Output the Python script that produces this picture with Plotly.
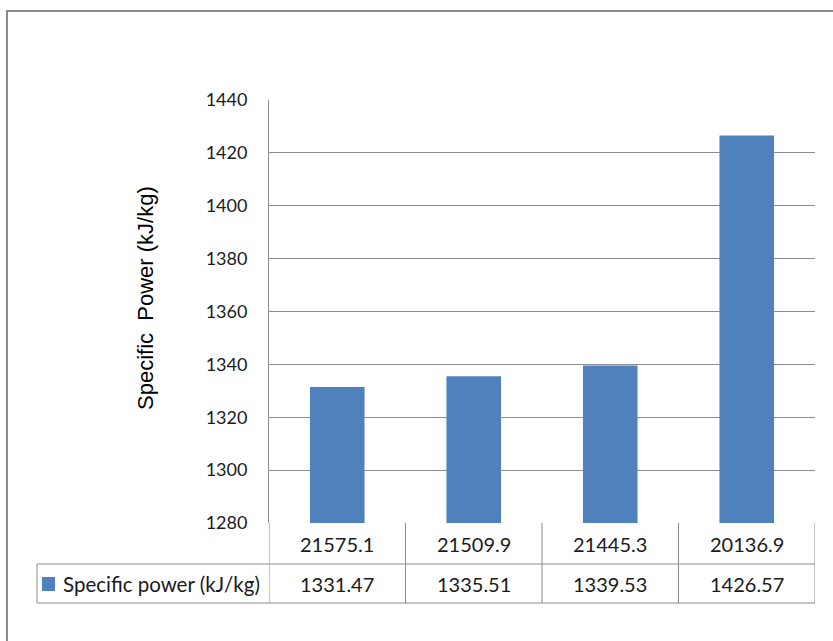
import plotly.graph_objects as go

# Chart data
categories = ["21575.1", "21509.9", "21445.3", "20136.9"]
specific_power = [1331.47, 1335.51, 1339.53, 1426.57]
series_name = "Specific power (kJ/kg)"
y_ticks = [1280, 1300, 1320, 1340, 1360, 1380, 1400, 1420, 1440]

W, H = 833, 641
L, R, T, B = 269, 18, 100, 118
pw, ph = W - L - R, H - T - B

def px_x(x):
    return (x - L) / pw

def px_y(y):
    return (H - B - y) / ph

BAR = "#4F81BD"
GRID = "#8C8C8C"
FONT = "Lato, Open Sans, sans-serif"
TICK_FONT = dict(family=FONT, size=18, color="#1a1a1a")
CELL_FONT = dict(family=FONT, size=20, color="#1a1a1a")

fig = go.Figure()
fig.add_trace(go.Bar(
    x=list(range(len(categories))), y=specific_power, name=series_name,
    marker=dict(color=BAR, line=dict(width=0)), width=0.4,
    showlegend=False,
))

shapes = []
annotations = []

def hline(x0, x1, y, xref="paper"):
    shapes.append(dict(type="line", xref=xref, yref="paper", x0=x0, x1=x1,
                       y0=y, y1=y, line=dict(color=GRID, width=1), layer="above"))

def vline(x, y0, y1, xref="paper"):
    shapes.append(dict(type="line", xref=xref, yref="paper", x0=x, x1=x,
                       y0=y0, y1=y1, line=dict(color=GRID, width=1), layer="above"))

# Outer chart frame
shapes.append(dict(type="rect", xref="paper", yref="paper",
                   x0=px_x(7), x1=px_x(900), y0=px_y(700), y1=px_y(11),
                   line=dict(color="#8A8A8A", width=2), layer="below"))

# Data table below the plot
row1_top, row1_bot, row2_bot = px_y(523), px_y(564), px_y(603)
n = len(categories)
hline(px_x(37), 1, row1_bot)
hline(px_x(37), 1, row2_bot)
for i in range(n + 1):
    vline(i - 0.5, row2_bot, row1_top, xref="x")
vline(px_x(37), row2_bot, row1_bot)

for i, (c, v) in enumerate(zip(categories, specific_power)):
    annotations.append(dict(x=i, y=(row1_top + row1_bot) / 2, xref="x", yref="paper",
                            xanchor="center", yanchor="middle",
                            text=c, showarrow=False, font=CELL_FONT))
    annotations.append(dict(x=i, y=(row1_bot + row2_bot) / 2, xref="x", yref="paper",
                            xanchor="center", yanchor="middle",
                            text=f"{v:.2f}", showarrow=False, font=CELL_FONT))

# legend key inside the table
shapes.append(dict(type="rect", xref="paper", yref="paper",
                   x0=px_x(42), x1=px_x(55), y0=px_y(591), y1=px_y(577),
                   fillcolor=BAR, line=dict(width=0)))
annotations.append(dict(x=px_x(61), y=(row1_bot + row2_bot) / 2, xref="paper", yref="paper",
                        text=series_name, showarrow=False, xanchor="left", yanchor="middle",
                        font=dict(family=FONT, size=20.5, color="#1a1a1a")))

# y-axis title
annotations.append(dict(x=px_x(145), y=px_y(298), xref="paper", yref="paper",
                        xanchor="center", yanchor="middle",
                        text="Specific  Power (kJ/kg)", textangle=-90, showarrow=False,
                        font=dict(family="Liberation Sans, Arial, sans-serif", size=22, color="#000")))

fig.update_layout(
    width=W, height=H,
    margin=dict(l=L, r=R, t=T, b=B),
    paper_bgcolor="white", plot_bgcolor="white",
    xaxis=dict(range=[-0.5, n - 0.5], showticklabels=False, showgrid=False,
               zeroline=False, showline=False, ticks=""),
    yaxis=dict(range=[1280, 1440], tickvals=y_ticks, showgrid=True, gridcolor=GRID,
               gridwidth=1, showline=True, linecolor=GRID, linewidth=1, zeroline=False,
               ticks="", tickfont=TICK_FONT, ticklabelstandoff=17),
    shapes=shapes, annotations=annotations,
)

fig.write_html("out.html")
